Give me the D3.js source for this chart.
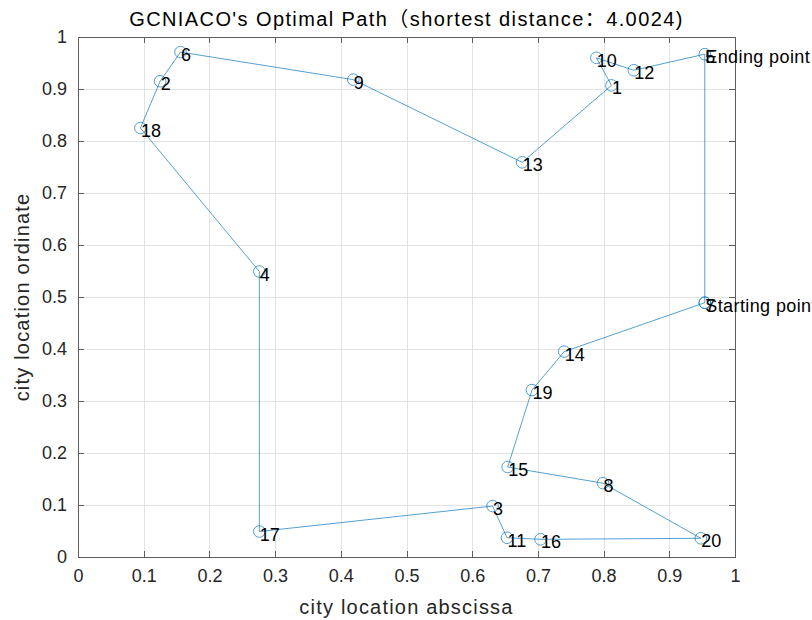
<!DOCTYPE html>
<html>
<head>
<meta charset="utf-8">
<script src="https://cdn.jsdelivr.net/npm/d3@7"></script>
<style>
  html, body { margin: 0; padding: 0; background: #fff; }
  svg { display: block; font-family: "Liberation Sans", Arial, "Noto Sans CJK SC", sans-serif; }
</style>
</head>
<body>
<svg id="chart" width="812" height="620"></svg>
<script>
// City coordinates, indexed by city number (1..20)
const cityIds = [1, 2, 3, 4, 5, 6, 7, 8, 9, 10, 11, 12, 13, 14, 15, 16, 17, 18, 19, 20];
const cityX = [0.812, 0.125, 0.631, 0.276, 0.954, 0.156, 0.954, 0.799, 0.419, 0.789,
               0.653, 0.846, 0.676, 0.740, 0.654, 0.704, 0.276, 0.095, 0.691, 0.948];
const cityY = [0.907, 0.915, 0.098, 0.549, 0.967, 0.971, 0.489, 0.142, 0.918, 0.960,
               0.037, 0.936, 0.759, 0.395, 0.173, 0.034, 0.049, 0.825, 0.321, 0.036];

// Best tour found (closed loop back to the start city)
const tour = [7, 14, 19, 15, 8, 20, 16, 11, 3, 17, 4, 18, 2, 6, 9, 13, 1, 10, 12, 5, 7];
const startCity = 7;
const endCity = 5;

const xTicks = [0, 0.1, 0.2, 0.3, 0.4, 0.5, 0.6, 0.7, 0.8, 0.9, 1];
const yTicks = [0, 0.1, 0.2, 0.3, 0.4, 0.5, 0.6, 0.7, 0.8, 0.9, 1];

const titleText = "GCNIACO's Optimal Path\uFF08shortest distance\uFF1A4.0024)";
const xLabel = "city location abscissa";
const yLabel = "city location ordinate";

const svg = d3.select("#chart");
const margin = { left: 78, right: 77, top: 37, bottom: 63 };
const W = 812, H = 620;

const x = d3.scaleLinear().domain([0, 1]).range([margin.left, W - margin.right]);
const y = d3.scaleLinear().domain([0, 1]).range([H - margin.bottom, margin.top]);

const axisColor = "#262626";
const tickLen = 6;

svg.append("rect").attr("width", W).attr("height", H).attr("fill", "#fff");

// grid
const grid = svg.append("g").attr("stroke", "#e3e3e3").attr("stroke-width", 1).attr("shape-rendering", "crispEdges");
grid.selectAll(".gx").data(xTicks.slice(1, -1)).join("line")
  .attr("x1", d => Math.round(x(d)) + 0.5).attr("x2", d => Math.round(x(d)) + 0.5)
  .attr("y1", y(1)).attr("y2", y(0));
grid.selectAll(".gy").data(yTicks.slice(1, -1)).join("line")
  .attr("y1", d => Math.round(y(d)) + 0.5).attr("y2", d => Math.round(y(d)) + 0.5)
  .attr("x1", x(0)).attr("x2", x(1));

// axes: bottom/left with labels, top/right mirrored ticks only
const fmt = d => d3.format("")(d);
const axisB = d3.axisBottom(x).tickValues(xTicks).tickFormat(fmt).tickSizeInner(-tickLen).tickSizeOuter(0).tickPadding(12);
const axisL = d3.axisLeft(y).tickValues(yTicks).tickFormat(fmt).tickSizeInner(-tickLen).tickSizeOuter(0).tickPadding(11);
const axisT = d3.axisTop(x).tickValues(xTicks).tickFormat("").tickSizeInner(-tickLen).tickSizeOuter(0);
const axisR = d3.axisRight(y).tickValues(yTicks).tickFormat("").tickSizeInner(-tickLen).tickSizeOuter(0);

function styleAxis(g) {
  g.selectAll("path, line").attr("stroke", "#5e5e5e").attr("shape-rendering", "crispEdges");
  g.selectAll("text").attr("fill", axisColor).style("font-size", "18px").style("font-family", "\"Liberation Sans\", Arial, sans-serif");
}
svg.append("g").attr("transform", `translate(0,${y(0)})`).call(axisB).call(styleAxis);
svg.append("g").attr("transform", `translate(${x(0)},0)`).call(axisL).call(styleAxis);
svg.append("g").attr("transform", `translate(0,${y(1)})`).call(axisT).call(styleAxis);
svg.append("g").attr("transform", `translate(${x(1)},0)`).call(axisR).call(styleAxis);

// tour path
const px = id => x(cityX[id - 1]);
const py = id => y(cityY[id - 1]);
const line = d3.line().x(px).y(py);
const blue = "#0072BD";
svg.append("path").datum(tour).attr("d", line)
  .attr("fill", "none").attr("stroke", blue).attr("stroke-width", 0.8).attr("stroke-opacity", 0.85);

svg.append("g").selectAll("circle").data(tour).join("circle")
  .attr("cx", px).attr("cy", py).attr("r", 5.8)
  .attr("fill", "none").attr("stroke", blue).attr("stroke-width", 0.8).attr("stroke-opacity", 0.85);

// city number labels
const labelFont = "18px";
svg.append("g").selectAll("text").data(cityIds).join("text")
  .attr("x", d => px(d) + 0.5).attr("y", d => py(d) + 9)
  .attr("fill", "#000").style("font-size", labelFont)
  .text(d => d);

svg.append("text").attr("x", px(startCity) + 0.5).attr("y", py(startCity) + 9)
  .attr("fill", "#000").style("font-size", labelFont).style("letter-spacing", "0.4px").text("Starting point");
svg.append("text").attr("x", px(endCity) + 0.5).attr("y", py(endCity) + 9)
  .attr("fill", "#000").style("font-size", labelFont).style("letter-spacing", "0.4px").text("Ending point");

// title and axis labels
svg.append("text").attr("x", (x(0) + x(1)) / 2).attr("y", 26)
  .attr("text-anchor", "middle").attr("fill", "#000")
  .style("font-size", "20px").style("letter-spacing", "1.4px").text(titleText);
svg.append("text").attr("x", (x(0) + x(1)) / 2).attr("y", 614)
  .attr("text-anchor", "middle").attr("fill", axisColor)
  .style("font-size", "20px").style("letter-spacing", "1.2px").text(xLabel);
svg.append("text").attr("transform", `translate(29,${(y(0) + y(1)) / 2}) rotate(-90)`)
  .attr("text-anchor", "middle").attr("fill", axisColor)
  .style("font-size", "20px").style("letter-spacing", "1.2px").text(yLabel);
</script>
</body>
</html>
